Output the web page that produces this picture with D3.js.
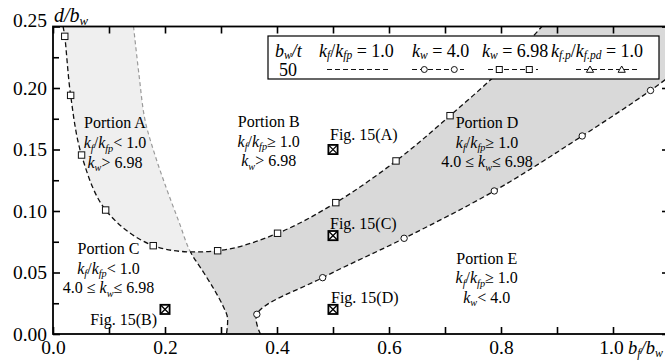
<!DOCTYPE html>
<html>
<head>
<meta charset="utf-8">
<script src="https://cdn.jsdelivr.net/npm/d3@7/dist/d3.min.js"></script>
<style>
  body { margin: 0; background: #fff; }
  text { font-family: "Liberation Serif", "Times New Roman", serif; fill: #000; }
</style>
</head>
<body>
<svg id="chart" width="665" height="360" font-family="Liberation Serif, serif"></svg>
<script>
// ---- axis ticks ----
const xMajorTicks = [0, 0.2, 0.4, 0.6, 0.8, 1.0];
const xMajorLabels = ["0.0", "0.2", "0.4", "0.6", "0.8", "1.0"];
const xMinorTicks = [0.1, 0.3, 0.5, 0.7, 0.9];
const yMajorTicks = [0, 0.05, 0.10, 0.15, 0.20, 0.25];
const yMajorLabels = ["0.00", "0.05", "0.10", "0.15", "0.20", "0.25"];
const yMinorTicks = [0.025, 0.075, 0.125, 0.175, 0.225];

// ---- boundary curves (bf/bw, d/bw) ----
// kw = 6.98 : end points on the top border, interior points carry square markers
const kw698Ends = [[0.018, 0.25], [0.873, 0.25]];
const kw698Points = [[0.021, 0.242], [0.0315, 0.194], [0.051, 0.1455], [0.094, 0.1008],
  [0.179, 0.0718], [0.294, 0.0677], [0.401, 0.0819], [0.505, 0.1068],
  [0.6125, 0.1407], [0.709, 0.1775], [0.81, 0.219]];
// kw = 4.0 : circle markers
const kw40Ends = [[0.3705, 0.0], [1.12, 0.216]];
const kw40Points = [[0.364, 0.016], [0.4815, 0.0458], [0.627, 0.0778],
  [0.788, 0.1163], [0.945, 0.161], [1.067, 0.198]];
// kf/kfp = 1.0
const kfCurve = [[0.1438, 0.25], [0.1536, 0.2106], [0.1643, 0.174], [0.1821, 0.1455],
  [0.2036, 0.1171], [0.225, 0.0911], [0.2446, 0.0675], [0.2696, 0.0496],
  [0.2893, 0.035], [0.3036, 0.0228], [0.3115, 0.0135], [0.3098, 0.0]];

// ---- specimens of Fig. 15 ----
const specimenNames = ["Fig. 15(A)", "Fig. 15(B)", "Fig. 15(C)", "Fig. 15(D)"];
const specimenBf = [0.5, 0.2, 0.5, 0.5];
const specimenD = [0.15, 0.02, 0.08, 0.02];

// ---- layout ----
const svg = d3.select("#chart");
const x = d3.scaleLinear().domain([0, 1.1]).range([53, 669]);
const y = d3.scaleLinear().domain([0, 0.25]).range([334, 26.5]);
const px = d => x(d[0]), py = d => y(d[1]);
const line = d3.line().x(px).y(py).curve(d3.curveCatmullRom.alpha(0.5));

const kw698Curve = [kw698Ends[0], ...kw698Points, kw698Ends[1]];
const kw40Curve = [kw40Ends[0], ...kw40Points, kw40Ends[1]];

const defs = svg.append("defs");
const X0 = x(0), X1 = x(1.1) + 10, Y0 = y(0), Y1 = y(0.25);

// region inside the kw = 6.98 curve (closed along the top border)
const uPath = line(kw698Curve) + "Z";
// region left / right of kf/kfp = 1.0
const kfStr = line(kfCurve);
const leftPath = kfStr + `L${X0},${Y0}L${X0},${Y1}Z`;
const rightPath = kfStr + `L${X1},${Y0}L${X1},${Y1}Z`;
// region above kw = 4.0
const kwAbovePath = line(kw40Curve) + `L${X1},${Y1}L${X0},${Y1}L${X0},${Y0}Z`;

defs.append("clipPath").attr("id", "plotArea")
  .append("rect").attr("x", X0).attr("y", Y1).attr("width", x(1.1) - X0).attr("height", Y0 - Y1);
defs.append("clipPath").attr("id", "leftKf").append("path").attr("d", leftPath);
defs.append("clipPath").attr("id", "rightKf").append("path").attr("d", rightPath);
defs.append("clipPath").attr("id", "insideU").append("path").attr("d", uPath);
const outU = defs.append("mask").attr("id", "outsideU").attr("maskUnits", "userSpaceOnUse")
  .attr("x", 0).attr("y", 0).attr("width", 700).attr("height", 400);
outU.append("rect").attr("x", 0).attr("y", 0).attr("width", 700).attr("height", 400).attr("fill", "#fff");
outU.append("path").attr("d", uPath).attr("fill", "#000");

const plot = svg.append("g").attr("clip-path", "url(#plotArea)");

// Portion A shading
plot.append("path").attr("d", uPath).attr("fill", "#efefef").attr("clip-path", "url(#leftKf)");
// Portion D shading
plot.append("g").attr("clip-path", "url(#rightKf)")
  .append("path").attr("d", kwAbovePath).attr("fill", "#d9d9d9").attr("mask", "url(#outsideU)");

// kf/kfp = 1.0 : grey inside the kw = 6.98 curve, black outside
plot.append("path").attr("d", kfStr).attr("fill", "none").attr("stroke", "#9a9a9a")
  .attr("stroke-width", 1.2).attr("stroke-dasharray", "4,3").attr("clip-path", "url(#insideU)");
plot.append("path").attr("d", kfStr).attr("fill", "none").attr("stroke", "#111")
  .attr("stroke-width", 1.3).attr("stroke-dasharray", "5,3").attr("mask", "url(#outsideU)");

// kw curves
plot.append("path").attr("d", line(kw698Curve)).attr("fill", "none").attr("stroke", "#111")
  .attr("stroke-width", 1.3).attr("stroke-dasharray", "5,3");
plot.append("path").attr("d", line(kw40Curve)).attr("fill", "none").attr("stroke", "#111")
  .attr("stroke-width", 1.3).attr("stroke-dasharray", "5,3");

plot.selectAll("rect.sq").data(kw698Points).join("rect").attr("class", "sq")
  .attr("x", d => px(d) - 3.2).attr("y", d => py(d) - 3.2).attr("width", 6.4).attr("height", 6.4)
  .attr("fill", "#fff").attr("stroke", "#111").attr("stroke-width", 1);
plot.selectAll("circle.ci").data(kw40Points).join("circle").attr("class", "ci")
  .attr("cx", px).attr("cy", py).attr("r", 3.2)
  .attr("fill", "#fff").attr("stroke", "#111").attr("stroke-width", 1);

// ---- rich text helper (italics and subscripts) ----
function rich(sel, segs, size, subShift = 0.22) {
  let shift = 0;
  segs.forEach(([t, st]) => {
    const ts = sel.append("tspan").text(t);
    const sub = st.includes("s");
    const target = sub ? size * subShift : 0;
    if (target - shift !== 0) ts.attr("dy", target - shift);
    shift = target;
    if (sub) ts.attr("font-size", size * 0.64);
    if (st.includes("i")) ts.attr("font-style", "italic");
  });
  return sel;
}
const KF = [["k", "i"], ["f", "is"], ["/", ""], ["k", "i"], ["fp", "is"]];
const KW = [["k", "i"], ["w", "is"]];

// ---- portion labels ----
const portions = [
  { at: [0.1107, 0.1671], lines: [[["Portion A", ""]], [...KF, ["< 1.0", ""]], [...KW, ["> 6.98", ""]]] },
  { at: [0.3852, 0.1683], lines: [[["Portion B", ""]], [...KF, ["\u2265 1.0", ""]], [...KW, ["> 6.98", ""]]] },
  { at: [0.0991, 0.0650], lines: [[["Portion C", ""]], [...KF, ["< 1.0", ""]], [["4.0 \u2264 ", ""], ...KW, ["\u2264 6.98", ""]]] },
  { at: [0.7750, 0.1675], lines: [[["Portion D", ""]], [...KF, ["\u2265 1.0", ""]], [["4.0 \u2264 ", ""], ...KW, ["\u2264 6.98", ""]]] },
  { at: [0.7745, 0.0573], lines: [[["Portion E", ""]], [...KF, ["\u2265 1.0", ""]], [...KW, ["< 4.0", ""]]] }
];
portions.forEach(p => {
  p.lines.forEach((segs, i) => {
    const t = svg.append("text").attr("x", x(p.at[0])).attr("y", y(p.at[1]) + i * 19.7)
      .attr("text-anchor", "middle").attr("font-size", 16);
    rich(t, segs, 16);
  });
});

// ---- specimens ----
const specLabelOffset = [[-3, -10], [-8, 15.5], [-3, -7], [-2, -6]];
specimenNames.forEach((name, i) => {
  const cx = x(specimenBf[i]), cy = y(specimenD[i]);
  const s = 4.6;
  const g = svg.append("g");
  g.append("rect").attr("x", cx - s).attr("y", cy - s).attr("width", 2 * s).attr("height", 2 * s)
    .attr("fill", "#fff").attr("stroke", "#000").attr("stroke-width", 1.8);
  g.append("path").attr("d", `M${cx - s},${cy - s}L${cx + s},${cy + s}M${cx + s},${cy - s}L${cx - s},${cy + s}`)
    .attr("stroke", "#000").attr("stroke-width", 1.3);
  const [dx, dy] = specLabelOffset[i];
  svg.append("text").attr("x", cx + dx).attr("y", cy + dy)
    .attr("text-anchor", dx < -5 ? "end" : "start").attr("font-size", 16).text(name);
});

// ---- axes ----
const fmtX = d => xMajorLabels[xMajorTicks.indexOf(d)];
const fmtY = d => yMajorLabels[yMajorTicks.indexOf(d)];
function styleAxis(g) {
  g.attr("font-family", null);
  g.select(".domain").remove();
  g.selectAll("line").attr("stroke", "#000").attr("stroke-width", 1.6);
  g.selectAll("text").attr("font-size", 19.5).attr("fill", "#000");
}
const xAxisG = svg.append("g").attr("transform", `translate(0,${Y0})`)
  .call(d3.axisBottom(x).tickValues(xMajorTicks).tickSize(-7).tickPadding(6).tickFormat(fmtX)).call(styleAxis);
svg.append("g").attr("transform", `translate(0,${Y0})`)
  .call(d3.axisBottom(x).tickValues(xMinorTicks).tickSize(-7).tickFormat("")).call(styleAxis);
svg.append("g").attr("transform", `translate(0,${Y1})`)
  .call(d3.axisTop(x).tickValues([...xMajorTicks, ...xMinorTicks]).tickSize(-7).tickFormat("")).call(styleAxis);
const yAxisG = svg.append("g").attr("transform", `translate(${X0},0)`)
  .call(d3.axisLeft(y).tickValues(yMajorTicks).tickSize(-7).tickPadding(6).tickFormat(fmtY)).call(styleAxis);
svg.append("g").attr("transform", `translate(${X0},0)`)
  .call(d3.axisLeft(y).tickValues(yMinorTicks).tickSize(-6).tickFormat("")).call(styleAxis);
svg.append("g").attr("transform", `translate(${x(1.1)},0)`)
  .call(d3.axisRight(y).tickValues(yMajorTicks).tickSize(-7).tickFormat("")).call(styleAxis);
svg.append("g").attr("transform", `translate(${x(1.1)},0)`)
  .call(d3.axisRight(y).tickValues(yMinorTicks).tickSize(-4).tickFormat("")).call(styleAxis);
// top label sits a little higher so it clears the frame corner
yAxisG.selectAll(".tick text").filter(d => d === 0.25).attr("dy", "-0.02em");
// last x label nudged left to leave room for the axis title
xAxisG.selectAll(".tick text").filter(d => d === 1.0).attr("dx", -2);

// plot frame
svg.append("rect").attr("x", X0).attr("y", Y1).attr("width", x(1.1) - X0).attr("height", Y0 - Y1)
  .attr("fill", "none").attr("stroke", "#000").attr("stroke-width", 1.8);

// axis titles
rich(svg.append("text").attr("x", 54).attr("y", 21.5).attr("font-size", 20),
  [["d", "i"], ["/", "i"], ["b", "i"], ["w", "is"]], 20, 0.18);
rich(svg.append("text").attr("x", 628).attr("y", 354).attr("font-size", 18.5),
  [["b", "i"], ["f", "is"], ["/", "i"], ["b", "i"], ["w", "is"]], 18.5, 0.18);

// ---- legend ----
const lg = svg.append("g");
lg.append("rect").attr("x", 268).attr("y", 36).attr("width", 391).attr("height", 43)
  .attr("fill", "#fff").attr("stroke", "#000").attr("stroke-width", 1.2);
const LS = 18;
const legendHeads = [
  { x: 275, segs: [["b", "i"], ["w", "is"], ["/", "i"], ["t", "i"]] },
  { x: 319, segs: [...KF, [" = 1.0", ""]] },
  { x: 412, segs: [...KW, [" = 4.0", ""]] },
  { x: 482, segs: [...KW, [" = 6.98", ""]] },
  { x: 551, segs: [["k", "i"], ["f.p", "is"], ["/", ""], ["k", "i"], ["f.pd", "is"], [" = 1.0", ""]] }
];
legendHeads.forEach(h => rich(lg.append("text").attr("x", h.x).attr("y", 56.5).attr("font-size", LS), h.segs, LS, 0.14));
lg.append("text").attr("x", 279).attr("y", 76).attr("font-size", LS).text("50");
const ly = 69.5;
const sample = (x0, x1) => lg.append("line").attr("x1", x0).attr("x2", x1).attr("y1", ly).attr("y2", ly)
  .attr("stroke", "#111").attr("stroke-width", 1.2).attr("stroke-dasharray", "5,3");
sample(327, 389);
sample(412, 464);
[424.3, 454.3].forEach(cx => lg.append("circle").attr("cx", cx).attr("cy", ly).attr("r", 3)
  .attr("fill", "#fff").attr("stroke", "#111").attr("stroke-width", 1));
sample(488, 538);
[499.3, 529.3].forEach(cx => lg.append("rect").attr("x", cx - 3).attr("y", ly - 3).attr("width", 6).attr("height", 6)
  .attr("fill", "#fff").attr("stroke", "#111").attr("stroke-width", 1));
sample(576, 640);
[590, 621.7].forEach(cx => lg.append("path")
  .attr("d", `M${cx},${ly - 3.5}L${cx + 3.6},${ly + 2.8}L${cx - 3.6},${ly + 2.8}Z`)
  .attr("fill", "#fff").attr("stroke", "#111").attr("stroke-width", 1));
</script>
</body>
</html>
